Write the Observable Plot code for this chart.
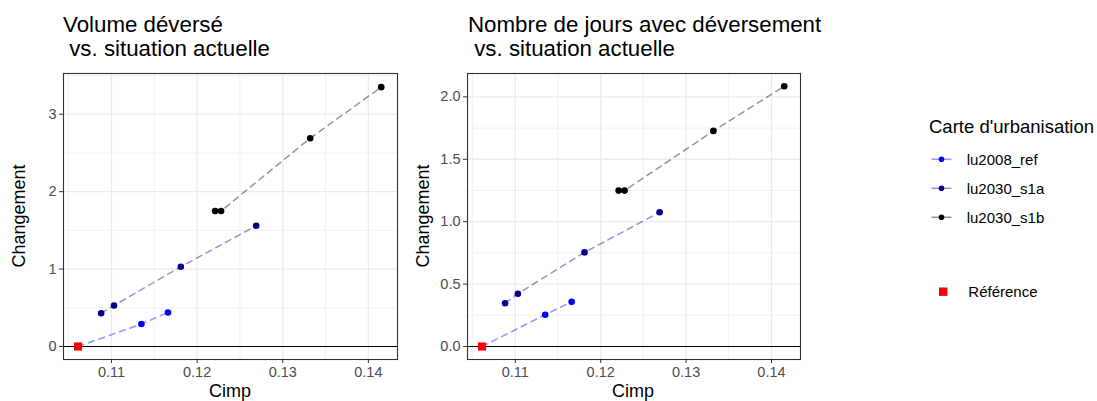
<!DOCTYPE html>
<html><head><meta charset="utf-8">
<script src="https://cdn.jsdelivr.net/npm/d3@7"></script>
<script src="https://cdn.jsdelivr.net/npm/@observablehq/plot@0.6"></script>
<style>
html,body{margin:0;padding:0;background:#fff;}
#wrap{position:relative;width:1097px;height:401px;overflow:hidden;font-family:"Liberation Sans",Arial,sans-serif;}
#wrap > svg{position:absolute;top:0;}
.title{position:absolute;font-size:22.3px;line-height:23.5px;color:#000;white-space:pre;}
</style></head>
<body><div id="wrap"></div>
<script>
// ---- data ----
const seriesNames = ["lu2008_ref", "lu2030_s1a", "lu2030_s1b"];
const seriesColors = ["#0000ff", "#00008b", "#000000"];
const refCimp = 0.1061;
const refValue = 0;
const cimp2008 = [0.1135, 0.1166];
const cimpS1a = [0.1088, 0.1103, 0.1181, 0.1269];
const cimpS1b = [0.1221, 0.1228, 0.1332, 0.1415];
const volume2008 = [0.29, 0.44];
const volumeS1a = [0.43, 0.53, 1.03, 1.56];
const volumeS1b = [1.75, 1.75, 2.69, 3.35];
const jours2008 = [0.255, 0.358];
const joursS1a = [0.347, 0.423, 0.754, 1.075];
const joursS1b = [1.249, 1.249, 1.727, 2.085];
const xTicks = [0.11, 0.12, 0.13, 0.14];
const xMinor = [0.105, 0.115, 0.125, 0.135];
const yTicksVol = [0, 1, 2, 3];
const yMinorVol = [0.5, 1.5, 2.5, 3.5];
const yTicksJours = [0, 0.5, 1, 1.5, 2];
const yMinorJours = [0.25, 0.75, 1.25, 1.75];
const titleVol = "Volume déversé\n vs. situation actuelle";
const titleJours = "Nombre de jours avec déversement\n vs. situation actuelle";
const legendTitle = "Carte d'urbanisation";
const refLabel = "Référence";
const xLabel = "Cimp";
const yLabel = "Changement";

const FONT = '"Liberation Sans",Arial,sans-serif';

function buildRows(v2008, vS1a, vS1b) {
  const lines = [], pts = [];
  lines.push({s: seriesNames[0], x: refCimp, y: refValue});
  cimp2008.forEach((c, i) => { lines.push({s: seriesNames[0], x: c, y: v2008[i]}); pts.push({s: seriesNames[0], x: c, y: v2008[i]}); });
  cimpS1a.forEach((c, i) => { lines.push({s: seriesNames[1], x: c, y: vS1a[i]}); pts.push({s: seriesNames[1], x: c, y: vS1a[i]}); });
  cimpS1b.forEach((c, i) => { lines.push({s: seriesNames[2], x: c, y: vS1b[i]}); pts.push({s: seriesNames[2], x: c, y: vS1b[i]}); });
  return {lines, pts};
}

function panel(opts) {
  const {lines, pts} = opts.rows;
  return Plot.plot({
    width: opts.width, height: 401,
    marginLeft: opts.ml, marginRight: 3, marginTop: 73, marginBottom: 42,
    style: {fontFamily: FONT, fontSize: "14.5px", background: "transparent", overflow: "visible"},
    x: {domain: [0.1044, 0.1434], axis: null},
    y: {domain: opts.ydomain, axis: null},
    color: {domain: seriesNames, range: seriesColors},
    marks: [
      Plot.ruleX(xMinor, {stroke: "#ebebeb", strokeWidth: 0.7}),
      Plot.ruleY(opts.yMinor, {stroke: "#ebebeb", strokeWidth: 0.7}),
      Plot.ruleX(xTicks, {stroke: "#ebebeb", strokeWidth: 1.3}),
      Plot.ruleY(opts.yTicks, {stroke: "#ebebeb", strokeWidth: 1.3}),
      Plot.ruleY([0], {stroke: "#000", strokeWidth: 1.2}),
      Plot.line(lines, {x: "x", y: "y", z: "s", stroke: "s", strokeOpacity: 0.4, strokeWidth: 1.6, strokeDasharray: "6,5"}),
      Plot.dot(pts, {x: "x", y: "y", fill: "s", r: 3.3}),
      Plot.dot([{x: refCimp, y: refValue}], {x: "x", y: "y", symbol: "square", fill: "#ff0000", r: 4.6}),
      Plot.frame({stroke: "#333333", strokeWidth: 1.1}),
      Plot.axisX(xTicks, {tickSize: 4, tickPadding: 3, stroke: "#333333", fill: "#4d4d4d", label: null, tickFormat: d3.format(".2f")}),
      Plot.axisY(opts.yTicks, {tickSize: 4, tickPadding: 3, stroke: "#333333", fill: "#4d4d4d", label: null, tickFormat: opts.fmt})
    ]
  });
}

const wrap = document.getElementById("wrap");

const p1 = panel({rows: buildRows(volume2008, volumeS1a, volumeS1b), width: 400, ml: 63,
  ydomain: [-0.168, 3.526], yTicks: yTicksVol, yMinor: yMinorVol, fmt: d3.format("d")});
p1.style.left = "0px";
wrap.appendChild(p1);

const p2 = panel({rows: buildRows(jours2008, joursS1a, joursS1b), width: 403, ml: 67,
  ydomain: [-0.104, 2.187], yTicks: yTicksJours, yMinor: yMinorJours, fmt: d3.format(".1f")});
p2.style.left = "400px";
wrap.appendChild(p2);

// titles
[[titleVol, 63], [titleJours, 468]].forEach(([t, x]) => {
  const d = document.createElement("div");
  d.className = "title";
  d.textContent = t;
  d.style.left = x + "px";
  d.style.top = "13px";
  wrap.appendChild(d);
});

// overlay svg: axis titles + legend
const ov = d3.select(wrap).append("svg").attr("width", 1097).attr("height", 401)
  .style("left", "0px").style("font-family", FONT);
[230, 633].forEach(cx => {
  ov.append("text").attr("x", cx).attr("y", 396.5).attr("text-anchor", "middle")
    .attr("font-size", 18).attr("fill", "#000").text(xLabel);
});
[25, 429].forEach(bx => {
  ov.append("text").attr("transform", `translate(${bx},216) rotate(-90)`).attr("text-anchor", "middle")
    .attr("font-size", 18).attr("fill", "#000").text(yLabel);
});

ov.append("text").attr("x", 929).attr("y", 133).attr("font-size", 18.5).attr("fill", "#000").text(legendTitle);
const ly = [159.3, 188.3, 217.3];
seriesNames.forEach((s, i) => {
  const g = ov.append("g");
  g.append("line").attr("x1", 931.5).attr("x2", 951.5).attr("y1", ly[i]).attr("y2", ly[i])
    .attr("stroke", seriesColors[i]).attr("stroke-opacity", 0.4).attr("stroke-width", 1.6);
  g.append("circle").attr("cx", 941.5).attr("cy", ly[i]).attr("r", 2.8).attr("fill", seriesColors[i]);
  g.append("text").attr("x", 966.7).attr("y", ly[i] + 5.3).attr("font-size", 15).attr("fill", "#000").text(s);
});
ov.append("rect").attr("x", 939).attr("y", 287.5).attr("width", 8.4).attr("height", 8.4).attr("fill", "#ff0000");
ov.append("text").attr("x", 968.3).attr("y", 297).attr("font-size", 15).attr("fill", "#000").text(refLabel);
</script>
</body></html>
